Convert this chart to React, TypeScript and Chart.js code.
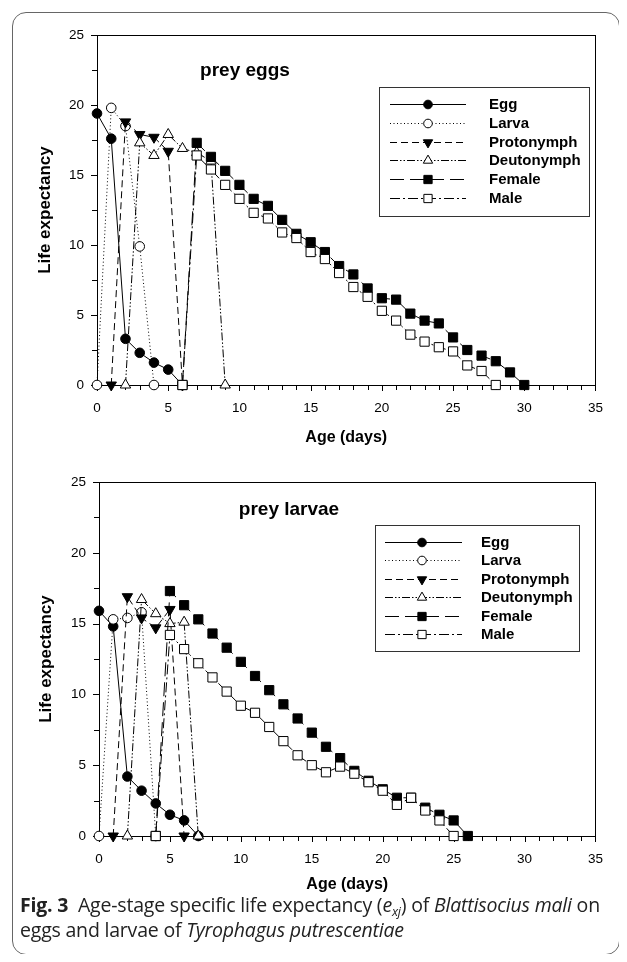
import React, { useEffect, useRef } from 'react';
import { Chart, registerables } from 'chart.js';
import { drawPoint } from 'chart.js/helpers';

Chart.register(...registerables);

const FONT = "'Liberation Sans', Arial, Helvetica, sans-serif";

// ---------- data ----------
const stageLabels = ['Egg', 'Larva', 'Protonymph', 'Deutonymph', 'Female', 'Male'];
const xTicks = [0, 5, 10, 15, 20, 25, 30, 35];
const yTicks = [0, 5, 10, 15, 20, 25];

// Panel 1: prey eggs
const eggsEggAge = [0, 1, 2, 3, 4, 5, 6];
const eggsEggEx = [19.4, 17.6, 3.3, 2.3, 1.6, 1.1, 0];
const eggsLarvaAge = [0, 1, 2, 3, 4];
const eggsLarvaEx = [0, 19.8, 18.5, 9.9, 0];
const eggsProtoAge = [1, 2, 3, 4, 5, 6];
const eggsProtoEx = [0, 18.8, 17.9, 17.7, 16.7, 0];
const eggsDeutoAge = [2, 3, 4, 5, 6, 7, 8, 9];
const eggsDeutoEx = [0, 17.3, 16.4, 17.9, 16.9, 16.6, 16.0, 0];
const eggsFemaleAge = [6, 7, 8, 9, 10, 11, 12, 13, 14, 15, 16, 17, 18, 19, 20, 21, 22, 23, 24, 25, 26, 27, 28, 29, 30];
const eggsFemaleEx = [0, 17.3, 16.3, 15.3, 14.3, 13.3, 12.8, 11.8, 10.8, 10.2, 9.5, 8.5, 7.9, 6.9, 6.2, 6.1, 5.1, 4.6, 4.4, 3.4, 2.5, 2.1, 1.7, 0.9, 0];
const eggsMaleAge = [6, 7, 8, 9, 10, 11, 12, 13, 14, 15, 16, 17, 18, 19, 20, 21, 22, 23, 24, 25, 26, 27, 28];
const eggsMaleEx = [0, 16.4, 15.4, 14.3, 13.3, 12.3, 11.9, 10.9, 10.5, 9.5, 9.0, 8.0, 7.0, 6.3, 5.3, 4.6, 3.6, 3.1, 2.7, 2.4, 1.4, 1.0, 0];

// Panel 2: prey larvae
const larvEggAge = [0, 1, 2, 3, 4, 5, 6, 7];
const larvEggEx = [15.9, 14.8, 4.2, 3.2, 2.3, 1.5, 1.1, 0];
const larvLarvaAge = [0, 1, 2, 3, 4];
const larvLarvaEx = [0, 15.3, 15.4, 15.8, 0];
const larvProtoAge = [1, 2, 3, 4, 5, 6];
const larvProtoEx = [0, 16.9, 15.4, 14.7, 16.0, 0];
const larvDeutoAge = [2, 3, 4, 5, 6, 7];
const larvDeutoEx = [0, 16.7, 15.7, 15.0, 15.1, 0];
const larvFemaleAge = [4, 5, 6, 7, 8, 9, 10, 11, 12, 13, 14, 15, 16, 17, 18, 19, 20, 21, 22, 23, 24, 25, 26];
const larvFemaleEx = [0, 17.3, 16.3, 15.3, 14.3, 13.3, 12.3, 11.3, 10.3, 9.3, 8.3, 7.3, 6.3, 5.5, 4.6, 3.9, 3.3, 2.7, 2.7, 2.0, 1.5, 1.1, 0];
const larvMaleAge = [4, 5, 6, 7, 8, 9, 10, 11, 12, 13, 14, 15, 16, 17, 18, 19, 20, 21, 22, 23, 24, 25];
const larvMaleEx = [0, 14.2, 13.2, 12.2, 11.2, 10.2, 9.2, 8.7, 7.7, 6.7, 5.7, 5.0, 4.5, 4.9, 4.4, 3.8, 3.2, 2.2, 2.7, 1.8, 1.1, 0];

// ---------- styles ----------
const stageStyles = [
  { dash: [] as number[], pointStyle: 'circle', rotation: 0, radius: 4.8, fill: '#000' },
  { dash: [1, 2.5], pointStyle: 'circle', rotation: 0, radius: 4.8, fill: '#fff' },
  { dash: [7, 4], pointStyle: 'triangle', rotation: 180, radius: 6, fill: '#000' },
  { dash: [8, 2, 1.5, 2, 1.5, 2], pointStyle: 'triangle', rotation: 0, radius: 6, fill: '#fff' },
  { dash: [14, 6], pointStyle: 'rect', rotation: 0, radius: 6.5, fill: '#000' },
  { dash: [10, 3, 2, 3], pointStyle: 'rect', rotation: 0, radius: 6.5, fill: '#fff' },
];

function buildDatasets(ages: number[][], values: number[][]) {
  return ages.map((a, i) => {
    const st = stageStyles[i];
    return {
      label: stageLabels[i],
      data: a.map((x, k) => ({ x, y: values[i][k] })),
      borderColor: '#000',
      borderWidth: 1,
      borderDash: st.dash,
      pointStyle: st.pointStyle,
      pointRotation: st.rotation,
      pointRadius: st.radius,
      pointHoverRadius: st.radius,
      pointBackgroundColor: st.fill,
      pointBorderColor: '#000',
      pointBorderWidth: 1,
      tension: 0,
      fill: false,
      clip: false,
      order: 5 - i,
    };
  });
}

// ---------- plugins ----------
const frameTicksPlugin = {
  id: 'frameTicks',
  beforeDatasetsDraw(chart: any) {
    const { ctx, chartArea: a, scales } = chart;
    const x = scales.x;
    const y = scales.y;
    ctx.save();
    ctx.strokeStyle = '#000';
    ctx.lineWidth = 1;
    ctx.strokeRect(Math.round(a.left) + 0.5, Math.round(a.top) + 0.5, Math.round(a.right - a.left), Math.round(a.bottom - a.top));
    ctx.beginPath();
    for (let v = 0; v <= 35; v += 1) {
      const px = Math.round(x.getPixelForValue(v)) + 0.5;
      const len = v % 5 === 0 ? 6 : 5;
      ctx.moveTo(px, Math.round(a.bottom));
      ctx.lineTo(px, Math.round(a.bottom) + len);
    }
    for (let v = 0; v <= 25; v += 2.5) {
      const py = Math.round(y.getPixelForValue(v)) + 0.5;
      const len = v % 5 === 0 ? 6 : 5;
      ctx.moveTo(Math.round(a.left), py);
      ctx.lineTo(Math.round(a.left) - len, py);
    }
    ctx.stroke();
    ctx.restore();
  },
};

const panelDecorPlugin = {
  id: 'panelDecor',
  afterDatasetsDraw(chart: any, _args: any, opts: any) {
    const { ctx } = chart;
    ctx.save();
    // title
    ctx.fillStyle = '#000';
    ctx.font = `bold 19px ${FONT}`;
    ctx.textAlign = 'center';
    ctx.textBaseline = 'middle';
    ctx.fillText(opts.title, opts.titleX, opts.titleY);
    // legend box
    const L = opts.legend;
    ctx.fillStyle = '#fff';
    ctx.fillRect(L.left, L.top, L.right - L.left, L.bottom - L.top);
    ctx.strokeStyle = '#333';
    ctx.lineWidth = 1;
    ctx.strokeRect(L.left + 0.5, L.top + 0.5, L.right - L.left, L.bottom - L.top);
    chart.data.datasets.forEach((ds: any, i: number) => {
      const yy = Math.round(L.firstRow + i * L.rowGap) + 0.5;
      ctx.save();
      ctx.strokeStyle = '#000';
      ctx.lineWidth = 1;
      ctx.setLineDash(ds.borderDash || []);
      ctx.beginPath();
      ctx.moveTo(L.sampleLeft, yy);
      ctx.lineTo(L.sampleRight, yy);
      ctx.stroke();
      ctx.setLineDash([]);
      ctx.fillStyle = ds.pointBackgroundColor;
      ctx.strokeStyle = '#000';
      ctx.lineWidth = 1;
      drawPoint(ctx, { pointStyle: ds.pointStyle, rotation: ds.pointRotation, radius: ds.pointRadius * 0.9, borderWidth: 1 } as any, L.marker, yy);
      ctx.restore();
      ctx.fillStyle = '#000';
      ctx.font = `bold 15px ${FONT}`;
      ctx.textAlign = 'left';
      ctx.textBaseline = 'middle';
      ctx.fillText(ds.label, L.textX, yy);
    });
    ctx.restore();
  },
};

type PanelLayout = {
  width: number;
  height: number;
  padTop: number;
  padRight: number;
  yAxisWidth: number;
  yTitlePad: number;
  xAxisHeight: number;
  xTitlePad: number;
  title: string;
  titleX: number;
  titleY: number;
  legend: any;
};

function makeConfig(ages: number[][], values: number[][], lay: PanelLayout): any {
  return {
    type: 'line',
    data: { datasets: buildDatasets(ages, values) },
    options: {
      responsive: false,
      animation: false,
      devicePixelRatio: 1,
      events: [],
      layout: { padding: { top: lay.padTop, right: lay.padRight, left: 0, bottom: 0 } },
      plugins: {
        legend: { display: false },
        tooltip: { enabled: false },
        panelDecor: { title: lay.title, titleX: lay.titleX, titleY: lay.titleY, legend: lay.legend },
      },
      scales: {
        x: {
          type: 'linear',
          min: 0,
          max: 35,
          afterBuildTicks: (s: any) => { s.ticks = xTicks.map((v) => ({ value: v })); },
          afterFit: (s: any) => { s.height = lay.xAxisHeight; },
          ticks: { color: '#000', font: { family: FONT, size: 13.5 }, padding: 15, maxRotation: 0 },
          grid: { display: false, drawTicks: false },
          border: { display: false },
          title: {
            display: true,
            text: 'Age (days)',
            color: '#000',
            font: { family: FONT, size: 16, weight: 'bold' },
            padding: { top: 0, bottom: lay.xTitlePad },
          },
        },
        y: {
          type: 'linear',
          min: 0,
          max: 25,
          afterBuildTicks: (s: any) => { s.ticks = yTicks.map((v) => ({ value: v })); },
          afterFit: (s: any) => { s.width = lay.yAxisWidth; },
          ticks: { color: '#000', font: { family: FONT, size: 13.5 }, padding: 13 },
          grid: { display: false, drawTicks: false },
          border: { display: false },
          title: {
            display: true,
            text: 'Life expectancy',
            color: '#000',
            font: { family: FONT, size: 17, weight: 'bold' },
            padding: { top: lay.yTitlePad, bottom: 0 },
          },
        },
      },
    },
    plugins: [frameTicksPlugin, panelDecorPlugin],
  };
}

const topLayout: PanelLayout = {
  width: 604, height: 444, padTop: 18, padRight: 15,
  yAxisWidth: 83, yTitlePad: 21, xAxisHeight: 73, xTitlePad: 11,
  title: 'prey eggs', titleX: 231, titleY: 57,
  legend: { left: 365, top: 73, right: 575, bottom: 202, firstRow: 90, rowGap: 18.8, sampleLeft: 376, sampleRight: 452, marker: 414, textX: 475 },
};

const bottomLayout: PanelLayout = {
  width: 604, height: 440, padTop: 22, padRight: 16,
  yAxisWidth: 85, yTitlePad: 22, xAxisHeight: 64, xTitlePad: 6,
  title: 'prey larvae', titleX: 275, titleY: 50,
  legend: { left: 361, top: 65, right: 565, bottom: 191, firstRow: 82, rowGap: 18.4, sampleLeft: 371, sampleRight: 448, marker: 408, textX: 467 },
};

function Panel({ ages, values, lay, left, top }: { ages: number[][]; values: number[][]; lay: PanelLayout; left: number; top: number }) {
  const ref = useRef<HTMLCanvasElement | null>(null);
  useEffect(() => {
    if (!ref.current) return;
    const chart = new Chart(ref.current, makeConfig(ages, values, lay));
    return () => chart.destroy();
  }, []);
  return (
    <canvas
      ref={ref}
      width={lay.width}
      height={lay.height}
      style={{ position: 'absolute', left, top, width: lay.width, height: lay.height }}
    />
  );
}

export default function App() {
  const capFont = "'Open Sans', 'Noto Sans', sans-serif";
  return (
    <div style={{ position: 'relative', width: 611, height: 946, background: '#fff' }}>
      <div
        style={{
          position: 'absolute', left: 4, top: 4, width: 608, height: 943,
          boxSizing: 'border-box', border: '1.5px solid #666', borderRadius: 14,
        }}
      />
      <Panel
        ages={[eggsEggAge, eggsLarvaAge, eggsProtoAge, eggsDeutoAge, eggsFemaleAge, eggsMaleAge]}
        values={[eggsEggEx, eggsLarvaEx, eggsProtoEx, eggsDeutoEx, eggsFemaleEx, eggsMaleEx]}
        lay={topLayout}
        left={6}
        top={6}
      />
      <Panel
        ages={[larvEggAge, larvLarvaAge, larvProtoAge, larvDeutoAge, larvFemaleAge, larvMaleAge]}
        values={[larvEggEx, larvLarvaEx, larvProtoEx, larvDeutoEx, larvFemaleEx, larvMaleEx]}
        lay={bottomLayout}
        left={6}
        top={452}
      />
      <div
        style={{
          position: 'absolute', left: 12, top: 884, fontFamily: capFont, fontSize: 19.5,
          lineHeight: '25px', color: '#222', whiteSpace: 'nowrap', letterSpacing: '-0.2px',
        }}
      >
        <span style={{ fontWeight: 'bold' }}>Fig. 3</span>
        {'\u00a0\u00a0Age-stage specific life expectancy ('}
        <i>e</i>
        <span style={{ fontStyle: 'italic', fontSize: '0.65em', position: 'relative', top: '0.35em', lineHeight: 0 }}>xj</span>
        {') of '}
        <i>Blattisocius mali</i>
        {' on'}
        <br />
        {'eggs and larvae of '}
        <i>Tyrophagus putrescentiae</i>
      </div>
    </div>
  );
}
